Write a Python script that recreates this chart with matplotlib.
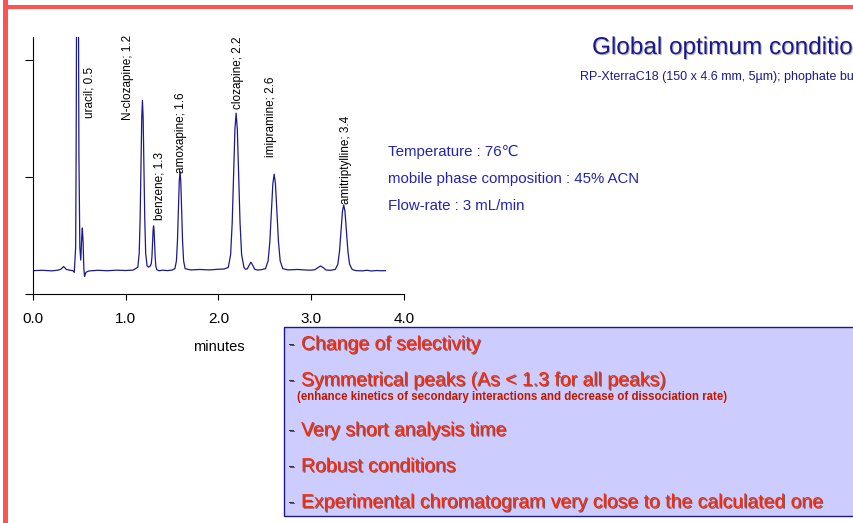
import matplotlib
matplotlib.use("Agg")
import matplotlib.pyplot as plt
import matplotlib.patheffects as pe
from matplotlib.patches import Rectangle

plt.rcParams['font.family'] = ['Liberation Sans', 'DejaVu Sans']

# chromatogram trace (minutes, signal in tick units)
time = [0.00, 0.10, 0.20, 0.27, 0.30, 0.33, 0.36, 0.40, 0.43, 0.445,
        0.46, 0.465, 0.47, 0.475, 0.485, 0.49, 0.495, 0.505, 0.515, 0.525,
        0.532, 0.54, 0.548, 0.556, 0.57, 0.60, 0.70, 0.80, 0.90, 1.00, 1.08,
        1.13, 1.145, 1.155, 1.165, 1.1725, 1.18, 1.1875, 1.195, 1.205, 1.215, 1.23,
        1.245, 1.265, 1.2755, 1.2825, 1.2895, 1.2948, 1.30, 1.3053, 1.3105, 1.3175,
        1.3245, 1.335, 1.36, 1.40, 1.45, 1.50,
        1.530, 1.5465, 1.5575, 1.5685, 1.5768, 1.585, 1.5933, 1.6015, 1.6125,
        1.6235, 1.640, 1.70, 1.80, 1.90, 2.00, 2.06,
        2.105, 2.1305, 2.1475, 2.1645, 2.1773, 2.19, 2.2028, 2.2155, 2.2325,
        2.2495, 2.275, 2.29, 2.31, 2.33, 2.35, 2.37, 2.39, 2.42, 2.46,
        2.507, 2.5349, 2.5535, 2.5721, 2.586, 2.60, 2.614, 2.6279, 2.6465,
        2.6651, 2.693, 2.75, 2.85, 2.95, 3.00, 3.04, 3.07, 3.10, 3.13, 3.16, 3.21,
        3.26, 3.287, 3.305, 3.323, 3.3365, 3.35, 3.3635, 3.377, 3.395, 3.413, 3.44,
        3.48, 3.55, 3.60, 3.65, 3.70, 3.75, 3.80]
signal = [0.200, 0.203, 0.198, 0.204, 0.212, 0.235, 0.210, 0.203, 0.200, 0.185,
          0.40, 1.20, 2.50, 3.20, 3.20, 2.50, 1.20, 0.40, 0.29, 0.48,
          0.565, 0.45, 0.22, 0.15, 0.185, 0.197, 0.203, 0.199, 0.204, 0.201, 0.205,
          0.229, 0.346, 0.637, 1.146, 1.510, 1.656, 1.510, 1.146, 0.637, 0.346, 0.240,
          0.230, 0.240, 0.260, 0.320, 0.449, 0.545, 0.583, 0.545, 0.449, 0.315,
          0.238, 0.208, 0.199, 0.204, 0.200, 0.205,
          0.217, 0.285, 0.454, 0.751, 0.963, 1.048, 0.963, 0.751, 0.454,
          0.285, 0.217, 0.206, 0.210, 0.206, 0.212, 0.214,
          0.227, 0.335, 0.604, 1.076, 1.413, 1.548, 1.413, 1.076, 0.604,
          0.335, 0.227, 0.212, 0.215, 0.245, 0.272, 0.245, 0.212, 0.205, 0.208,
          0.217, 0.283, 0.448, 0.737, 0.943, 1.026, 0.943, 0.737, 0.448,
          0.283, 0.217, 0.206, 0.210, 0.205, 0.204, 0.208, 0.225, 0.240, 0.225, 0.205, 0.203,
          0.211, 0.256, 0.369, 0.566, 0.707, 0.763, 0.707, 0.566, 0.369, 0.256, 0.211,
          0.200, 0.198, 0.203, 0.197, 0.201, 0.199, 0.200]

peak_labels = ["uracil; 0.5", "N-clozapine; 1.2", "benzene; 1.3", "amoxapine; 1.6",
               "clozapine; 2.2", "imipramine; 2.6", "amitriptylline; 3.4"]
label_pos = [(0.61, 1.51), (1.026, 1.49), (1.36, 0.635), (1.593, 1.04),
             (2.21, 1.585), (2.57, 1.175), (3.377, 0.77)]

xticks = [0, 1, 2, 3, 4]
xticklabels = ["0.0", "1.0", "2.0", "3.0", "4.0"]

conditions = ["Temperature : 76\u2103", "mobile phase composition : 45% ACN",
              "Flow-rate : 3 mL/min"]
points = ["Change of selectivity", "Symmetrical peaks (As < 1.3 for all peaks)",
          "Very short analysis time", "Robust conditions",
          "Experimental chromatogram very close to the calculated one"]
note = "(enhance kinetics of secondary interactions and decrease of dissociation rate)"

W, H = 854, 523
fig = plt.figure(figsize=(W / 100, H / 100), dpi=100)
fig.patch.set_facecolor("white")

def fx(px):
    return px / W

def fy(py):
    return 1 - py / H

# slide border
fig.patches.append(Rectangle((fx(3), fy(523)), fx(5), 523 / H, transform=fig.transFigure,
                             facecolor="#ff5252", edgecolor="none", zorder=0))
fig.patches.append(Rectangle((fx(3), fy(9)), 1, 4 / H, transform=fig.transFigure,
                             facecolor="#ff5252", edgecolor="none", zorder=0))

ax = fig.add_axes([fx(33), fy(294), fx(404) - fx(33), fy(37) - fy(294)])
ax.plot(time, signal, color="#1a1a8c", lw=0.9)
ax.set_xlim(0, 4)
ax.set_ylim(0, 2.2)
ax.spines[["top", "right"]].set_visible(False)
ax.set_xticks(xticks)
ax.set_xticklabels(xticklabels, fontsize=11)
ax.set_yticks([0, 1, 2])
ax.set_yticklabels([])
ax.tick_params(axis="x", length=4, pad=9)
ax.tick_params(axis="y", length=6)
ax.set_xlabel("minutes", fontsize=10.5, labelpad=10)
ax.patch.set_alpha(0)

for lab, (x, y) in zip(peak_labels, label_pos):
    ax.text(x, y, lab, rotation=90, ha="center", va="bottom", fontsize=8.5,
            color="black", clip_on=False)

# title runs off the right edge of the slide, as in the original
shadow = [pe.SimplePatchShadow(offset=(0.8, -0.8), shadow_rgbFace="#777777", alpha=0.5),
          pe.Normal()]
fig.text(fx(592), fy(48), "Global optimum conditions", fontsize=17.5, color="#1a1a8c",
         va="center", ha="left", path_effects=shadow)
fig.text(fx(580), fy(77), "RP-XterraC18 (150 x 4.6 mm, 5\u00b5m); phophate buffer",
         fontsize=9, color="#1a1a8c", va="center", ha="left")

for i, c in enumerate(conditions):
    fig.text(fx(388), fy(152 + 27 * i), c, fontsize=10.8, color="#2323b0",
             va="center", ha="left")

# conclusions box
fig.patches.append(Rectangle((fx(284), fy(516)), 1, (516 - 327) / H, transform=fig.transFigure,
                             facecolor="#ccccff", edgecolor="#1a1a8c", lw=1.0, zorder=1))

red_shadow = [pe.SimplePatchShadow(offset=(0.8, -0.8), shadow_rgbFace="#400000", alpha=0.6),
              pe.Normal()]
rows = [345, 381, 431, 467, 503]
for p, y in zip(points, rows):
    fig.text(fx(288), fy(y), "-", fontsize=14, color="#3a3030", va="center", ha="left",
             path_effects=red_shadow, zorder=3)
    fig.text(fx(301), fy(y), p, fontsize=14, color="#ff2a00", va="center", ha="left",
             path_effects=red_shadow, zorder=3)
fig.text(fx(297), fy(397), note, fontsize=8.3, fontweight="bold", color="#c01800",
         va="center", ha="left", zorder=3)

fig.savefig("out.png", dpi=100)
